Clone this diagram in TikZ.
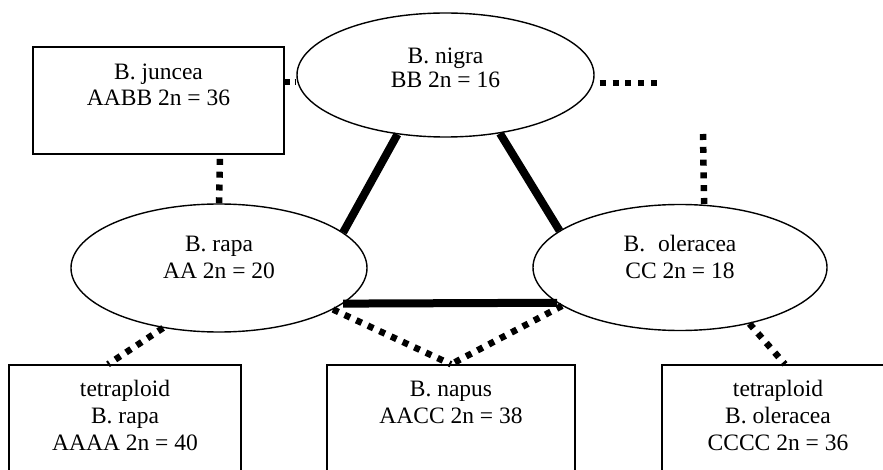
\documentclass[tikz,border=0pt]{standalone}
\usepackage{fontspec}
\setmainfont{Liberation Serif}
\usetikzlibrary{shapes.geometric}
\begin{document}
\begin{tikzpicture}[x=1pt,y=-1pt,
  shapeline/.style={draw=black, line width=1.4pt},
  spell/.style={shapeline, ellipse, inner sep=0pt},
  sbox/.style={shapeline, rectangle, inner sep=0pt},
  txt/.style={align=center, inner sep=0pt, font=\fontsize{23.5}{27}\selectfont},
  bond/.style={line width=8pt},
  cross/.style={line width=6.5pt, dash pattern=on 6pt off 6.8pt}]
\useasboundingbox (0,0) rectangle (883,470);
\clip (0,0) rectangle (883,470);
% ellipses
\node[spell, minimum width=297pt, minimum height=124pt] (nigra) at (445.5,75) {};
\node[spell, minimum width=296pt, minimum height=128pt] (rapa) at (219,268) {};
\node[spell, minimum width=294pt, minimum height=126pt] (oleracea) at (680,267.5) {};
% boxes
\node[sbox, minimum width=251pt, minimum height=107pt] (juncea) at (158.5,100.5) {};
\node[sbox, minimum width=232pt, minimum height=120pt] (lbox) at (125,425) {};
\node[sbox, minimum width=248pt, minimum height=120pt] (mbox) at (451,425) {};
\node[sbox, minimum width=232pt, minimum height=120pt] (rbox) at (778,425) {};
% texts
\node[txt, font=\fontsize{23.5}{24}\selectfont] (nigratxt) at (445.5,68) {B. nigra\\BB 2n = 16};
\node[txt] (rapatxt) at (219,257) {B. rapa\\AA 2n = 20};
\node[txt] (oleraceatxt) at (680,257) {B.\hspace{0.55em}oleracea\\CC 2n = 18};
\node[txt, font=\fontsize{23.5}{26.7}\selectfont] (junceatxt) at (158.5,84.7) {B. juncea\\AABB 2n = 36};
\node[txt, font=\fontsize{23.5}{26.7}\selectfont] (lboxtxt) at (125,415.4) {tetraploid\\B. rapa\\AAAA 2n = 40};
\node[txt] (mboxtxt) at (451,402.7) {B. napus\\AACC 2n = 38};
\node[txt, font=\fontsize{23.5}{26.7}\selectfont] (rboxtxt) at (778,415.4) {tetraploid\\B. oleracea\\CCCC 2n = 36};
% thick connectors
\draw[bond] (nigra.231.6) -- (rapa.16.2);
\draw[bond] (nigra.313.3) -- (oleracea.163.9);
\draw[bond] (rapa.344.5) -- (oleracea.196);
% dotted connectors
\coordinate (nigrafree) at (658,83);
\coordinate (olefree) at (703,134);
\draw[cross, dash pattern=on 5pt off 5pt] ([yshift=18.5pt]juncea.east) -- ([yshift=-7pt]nigra.west);
\draw[cross, dash phase=7.8pt] ([yshift=-8pt]nigra.east) -- (nigrafree);
\draw[cross] (olefree) -- (oleracea.69.7);
\draw[cross] (rapa.north) -- ([xshift=61.5pt]juncea.south);
\draw[cross] (rapa.227) -- ([xshift=-17pt]lbox.north);
\draw[cross] (rapa.340.9) -- (mbox.north);
\draw[cross] (oleracea.198) -- (mbox.north);
\draw[cross] (oleracea.321.1) -- ([xshift=7pt]rbox.north);
\end{tikzpicture}
\end{document}
